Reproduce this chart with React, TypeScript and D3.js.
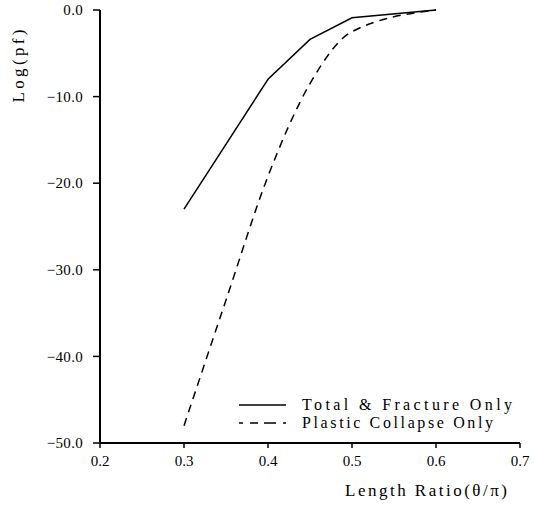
import React from "react";
import * as d3 from "d3";

const xTicks = [0.2, 0.3, 0.4, 0.5, 0.6, 0.7];
const yTicks = [0, -10, -20, -30, -40, -50];
const ratioTotal = [0.3, 0.4, 0.45, 0.5, 0.6];
const logTotal = [-23, -8, -3.4, -0.9, 0];
const ratioPlastic = [0.3, 0.35, 0.4, 0.45, 0.5, 0.6];
const logPlastic = [-48, -33.5, -19.2, -8.5, -2.5, 0];
const seriesNames = ["Total & Fracture Only", "Plastic Collapse Only"];

const W = 534, H = 506;
const FONT = '"Liberation Serif", "Times New Roman", Times, "DejaVu Serif", "Noto Serif", serif';

export default function App() {
  const x = d3.scaleLinear().domain([0.2, 0.7]).range([100, 520]);
  const y = d3.scaleLinear().domain([-50, 0]).range([443, 10]);
  const lineTotal = d3
    .line<number>()
    .x((_, i) => x(ratioTotal[i]))
    .y((d) => y(d));
  const linePlastic = d3
    .line<number>()
    .x((_, i) => x(ratioPlastic[i]))
    .y((d) => y(d))
    .curve(d3.curveMonotoneX);
  const fmt = (d: number) => (d === 0 ? "0.0" : "\u2212" + Math.abs(d).toFixed(1));
  const x0 = x(0.2), y0 = y(-50);
  return (
    <svg width={W} height={H} style={{ position: "absolute", left: 0, top: 0, background: "#fff", fontFamily: FONT }}>
      <rect width={W} height={H} fill="#fff" />
      {/* axes */}
      <line x1={x0} x2={x0} y1={y(0)} y2={y0 + 1} stroke="#000" strokeWidth={2} />
      <line x1={x0 - 1} x2={x(0.7)} y1={y0} y2={y0} stroke="#000" strokeWidth={2} />
      {yTicks.map((t) => (
        <g key={"y" + t}>
          <line x1={x0 - 7} x2={x0} y1={y(t)} y2={y(t)} stroke="#000" strokeWidth={1.5} />
          <text
            x={83}
            y={y(t)}
            dy="0.35em"
            textAnchor="end"
            style={{ fontFamily: FONT }}
            fontSize={15}
            letterSpacing={0.3}
            fill="#000"
          >
            {fmt(t)}
          </text>
        </g>
      ))}
      {xTicks.map((t) => (
        <g key={"x" + t}>
          <line x1={x(t)} x2={x(t)} y1={y0} y2={y0 + 5} stroke="#000" strokeWidth={1.5} />
          <text
            x={x(t)}
            y={y0 + 23}
            textAnchor="middle"
            style={{ fontFamily: FONT }}
            fontSize={15}
            fill="#000"
          >
            {t.toFixed(1)}
          </text>
        </g>
      ))}
      {/* axis titles */}
      <text
        transform={`translate(24,66) rotate(-90)`}
        textAnchor="middle"
        style={{ fontFamily: FONT }}
        fontSize={17}
        textLength={73}
        lengthAdjust="spacing"
        fill="#000"
      >
        Log(pf)
      </text>
      <text
        x={345}
        y={496}
        style={{ fontFamily: FONT }}
        fontSize={17}
        textLength={162}
        lengthAdjust="spacing"
        fill="#000"
      >
        Length Ratio(θ/π)
      </text>
      {/* series */}
      <path d={lineTotal(logTotal) || ""} fill="none" stroke="#000" strokeWidth={1.5} />
      <path
        d={linePlastic(logPlastic) || ""}
        fill="none"
        stroke="#000"
        strokeWidth={1.5}
        strokeDasharray="8,6"
      />
      {/* legend */}
      <line x1={239} x2={286} y1={405} y2={405} stroke="#000" strokeWidth={1.5} />
      <line x1={239} x2={286} y1={423} y2={423} stroke="#000" strokeWidth={1.5} strokeDasharray="4,7,8,6,8,0" />
      <text x={302} y={410} style={{ fontFamily: FONT }} fontSize={16} textLength={210} lengthAdjust="spacing" fill="#000">
        {seriesNames[0]}
      </text>
      <text x={302} y={428} style={{ fontFamily: FONT }} fontSize={16} textLength={191} lengthAdjust="spacing" fill="#000">
        {seriesNames[1]}
      </text>
    </svg>
  );
}
